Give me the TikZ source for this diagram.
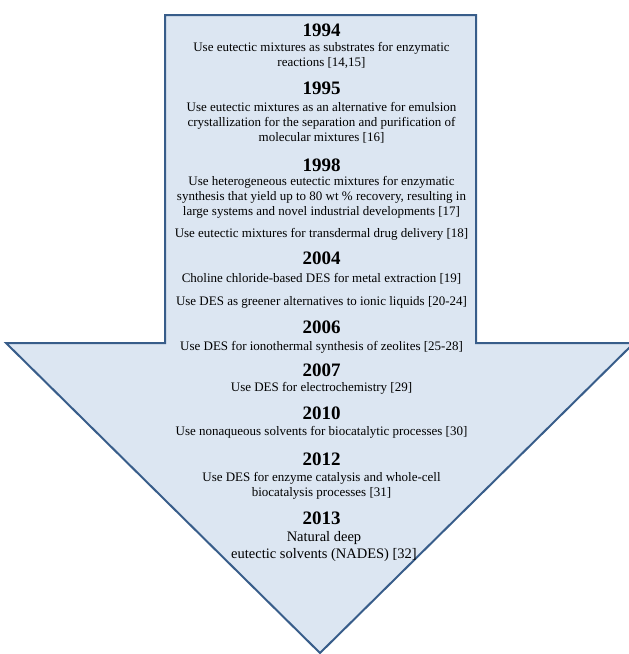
\documentclass[tikz,border=0pt]{standalone}
\usepackage{fontspec}
\setmainfont{Liberation Serif}
\definecolor{arrowfill}{RGB}{220, 230, 242}
\definecolor{arrowline}{RGB}{56, 93, 138}

\begin{document}
\begin{tikzpicture}[x=1pt, y=-1pt,
    year/.style={font=\fontsize{19}{22}\selectfont\bfseries, inner sep=0pt},
    entry/.style={font=\fontsize{13}{15}\selectfont, align=center, inner sep=0pt}]
            \useasboundingbox                                           (0.00, 0.00) rectangle (629.00, 654.00);
            \filldraw[color=arrowline, fill=arrowfill, line width=2pt] (165,15) -- (476,15) -- (476,343) -- (634,343)
                                                                        -- (320,653) -- (6,343) -- (165,343) -- cycle;
            \node[year]  (y1994) at (321.5, 30.0) {1994};
            \node[entry] (e1994) at (321.5, 55.5) {Use eutectic mixtures\ as substrates for enzymatic\\reactions [14,15]};
            \node[year]  (y1995) at (321.5, 88.0) {1995};
            \node[entry] (e1995) at (321.5,123.0) {Use eutectic mixtures\ as an alternative for emulsion\\crystallization\ for the separation and purification of\\molecular mixtures [16]};
            \node[year]  (y1998) at (321.5,165.0) {1998};
            \node[entry] (e1998) at (321.5,197.5) {Use heterogeneous eutectic mixtures for enzymatic\\synthesis that yield up to 80 wt \% recovery, resulting in\\large systems and novel industrial developments [17]};
            \node[entry] (d1998) at (321.5,234.0) {Use eutectic mixtures for transdermal drug delivery [18]};
            \node[year]  (y2004) at (321.5,258.0) {2004};
            \node[entry] (e2004) at (321.5,279.0) {Choline chloride-based DES for metal extraction [19]};
            \node[entry] (d2004) at (321.5,302.0) {Use DES as greener alternatives to ionic liquids [20-24]};
            \node[year]  (y2006) at (321.5,327.0) {2006};
            \node[entry] (e2006) at (321.5,347.0) {Use DES for ionothermal\ synthesis of zeolites [25-28]};
            \node[year]  (y2007) at (321.5,370.0) {2007};
            \node[entry] (e2007) at (321.5,388.5) {Use\ DES for electrochemistry\ [29]};
            \node[year]  (y2010) at (321.5,413.5) {2010};
            \node[entry] (e2010) at (321.5,432.0) {Use nonaqueous solvents for biocatalytic processes [30]};
            \node[year]  (y2012) at (321.5,459.0) {2012};
            \node[entry] (e2012) at (321.5,485.5) {Use DES for enzyme catalysis and whole-cell\\biocatalysis processes [31]};
            \node[year]  (y2013) at (321.5,518.0) {2013};
            \node[entry, font=\fontsize{14.5}{17}\selectfont] (e2013) at (324.0,546.5) {Natural deep\\eutectic solvents (NADES) [32]};
\end{tikzpicture}
\end{document}
